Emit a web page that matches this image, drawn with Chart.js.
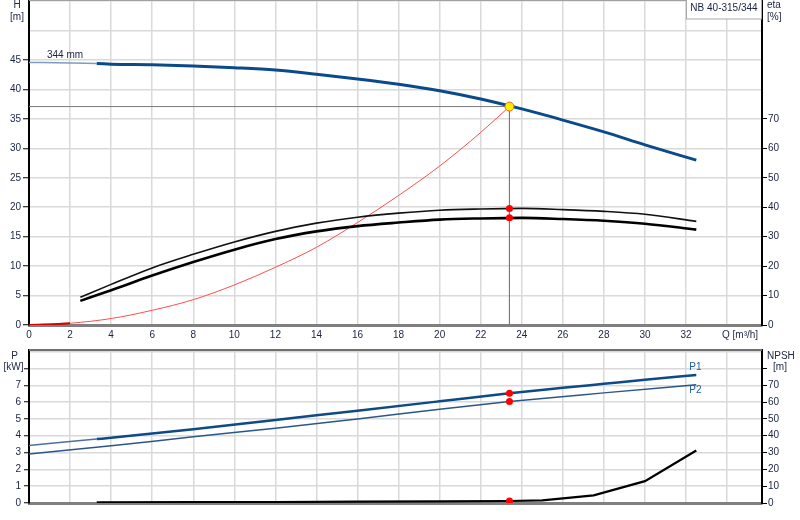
<!DOCTYPE html>
<html>
<head>
<meta charset="utf-8">
<script src="https://cdn.jsdelivr.net/npm/chart.js@4.4.1/dist/chart.umd.min.js"></script>
<style>
  body { margin: 0; background: #fff; }
  #wrap { position: relative; width: 800px; height: 520px; }
  canvas { position: absolute; left: 0; }
  #top { top: 0; z-index: 2; }
  #bottom { top: 340px; z-index: 1; }
  #caption { position: absolute; left: -9999px; top: 0; font: 10px Arial, "Liberation Sans", sans-serif; }
</style>
</head>
<body>
<div id="wrap">
  <canvas id="top" width="800" height="345"></canvas>
  <canvas id="bottom" width="800" height="180"></canvas>
  <div id="caption">NB 40-315/344 pump curves 0 2 4 6 8 10</div>
</div>
<script>
// Tick positions
const qTicks = [0, 2, 4, 6, 8, 10, 12, 14, 16, 18, 20, 22, 24, 26, 28, 30, 32, 34]
const hTicks = [0, 5, 10, 15, 20, 25, 30, 35, 40, 45, 50, 55]
const etaTicks = [0, 10, 20, 30, 40, 50, 60, 70]
const pTicks = [0, 1, 2, 3, 4, 5, 6, 7, 8, 9]
const npshTicks = [0, 10, 20, 30, 40, 50, 60, 70, 80]

// Q-H curve (impeller 344 mm)
const qHead = [0, 2, 3.3, 4, 6, 8, 10, 12, 14, 16, 18, 20, 22, 24, 26, 28, 30, 32.5]
const head = [44.6, 44.5, 44.4, 44.3, 44.2, 44.0, 43.7, 43.3, 42.6, 41.8, 40.9, 39.8, 38.4, 36.7, 34.8, 32.8, 30.6, 28.0]

// system curve (red)
const qSystem = [0, 2, 4, 6, 8, 10, 12, 14, 16, 18, 20, 22, 23.4]
const systemHead = [0, 0.3, 1.1, 2.5, 4.3, 6.8, 9.8, 13.2, 17.4, 22.0, 27.0, 32.7, 37.1]

// efficiency curves [%]
const qEta = [2.5, 4, 6, 8, 10, 12, 14, 16, 18, 20, 22, 24, 26, 28, 30, 32.5]
const etaPump = [9.4, 13.8, 19.4, 24.0, 28.2, 31.8, 34.6, 36.6, 38.0, 39.0, 39.4, 39.6, 39.2, 38.6, 37.6, 35.2]
const etaTotal = [8.2, 11.8, 16.8, 21.4, 25.6, 29.2, 31.8, 33.6, 34.8, 35.8, 36.2, 36.4, 36.0, 35.4, 34.4, 32.4]

// power [kW]
const qP1 = [0, 3.3, 4, 8, 12, 16, 20, 23.4, 26, 28, 30, 32.5]
const p1 = [3.42, 3.80, 3.88, 4.38, 4.94, 5.49, 6.05, 6.53, 6.85, 7.09, 7.33, 7.62]
const qP2 = [0, 4, 8, 12, 16, 20, 23.4, 28, 32.5]
const p2 = [2.91, 3.40, 3.94, 4.44, 5.00, 5.58, 6.03, 6.55, 7.04]

// NPSH [m]
const qNpsh = [3.3, 8, 12, 16, 20, 23.4, 25, 27.5, 30, 32.5]
const npsh = [0.4, 0.5, 0.6, 0.8, 1.0, 1.2, 1.6, 4.5, 13.0, 31.2]

// duty point
const dutyQ = 23.4
const dutyH = 37.1
const dutyEta = [39.6, 36.4]
const dutyP = [6.53, 6.03]
const dutyNpsh = 1.2

const FONT = 'Arial, "Liberation Sans", sans-serif'
const TEXT = "#1b2440"
const GRID = "#d9d9d9"

Chart.defaults.font.family = FONT
Chart.defaults.font.size = 10
Chart.defaults.color = TEXT

function toPoints(xs, ys) {
  return xs.map((x, i) => ({ x: x, y: ys[i] }))
}

function setTicks(list) {
  return (scale) => {
    scale.ticks = list.map((v) => ({ value: v }))
  }
}

function fitY(width) {
  return (scale) => {
    scale.width = width
    scale.paddingTop = 0
    scale.paddingBottom = 0
  }
}

function fitX(height) {
  return (scale) => {
    scale.height = height
    scale.paddingLeft = 0
    scale.paddingRight = 0
  }
}

function xScale(height, showLabels) {
  return {
    type: "linear",
    bounds: "data",
    min: 0,
    max: 35.7,
    afterBuildTicks: setTicks(qTicks),
    afterFit: fitX(height),
    grid: { color: GRID, lineWidth: 1.5, drawTicks: false },
    border: { color: "#7f7f7f", width: 3 },
    ticks: {
      padding: 4,
      maxRotation: 0,
      autoSkip: false,
      callback: (v) => (showLabels && v <= 32 ? String(v) : ""),
    },
  }
}

// Text, frames and box on the head chart
const topText = {
  id: "topText",
  afterDraw(chart) {
    const ctx = chart.ctx
    const area = chart.chartArea
    ctx.save()
    ctx.strokeStyle = "#a0a0a0"
    ctx.lineWidth = 1
    ctx.beginPath()
    ctx.moveTo(area.left, 0.5)
    ctx.lineTo(area.right, 0.5)
    ctx.stroke()

    ctx.font = "10px " + FONT
    ctx.fillStyle = TEXT
    ctx.textAlign = "center"
    ctx.textBaseline = "alphabetic"
    ctx.fillText("H", 17, 8)
    ctx.textBaseline = "middle"
    ctx.fillText("[m]", 17, 17.5)

    ctx.textAlign = "left"
    ctx.textBaseline = "alphabetic"
    ctx.fillText("eta", 767, 8)
    ctx.fillText("344 mm", 47, 57.5)
    ctx.textBaseline = "middle"
    ctx.fillText("[%]", 767, 17.5)
    ctx.fillText("Q [m³/h]", 722, area.bottom + 10)

    // model box
    ctx.fillStyle = "#ffffff"
    ctx.fillRect(686, 0, 75, 19)
    ctx.strokeStyle = "#a8a8a8"
    ctx.strokeRect(686.5, -0.5, 75, 19.5)
    ctx.fillStyle = TEXT
    ctx.textAlign = "center"
    ctx.fillText("NB 40-315/344", 724, 8.5)
    ctx.restore()
  },
}

const topChart = new Chart(document.getElementById("top"), {
  type: "line",
  data: {
    datasets: [
      {
        data: [{ x: dutyQ, y: dutyH }],
        yAxisID: "h",
        showLine: false,
        pointRadius: 4.5,
        pointBackgroundColor: "#ffee00",
        pointBorderColor: "#ff5a1f",
        pointBorderWidth: 1,
      },
      {
        data: dutyEta.map((e) => ({ x: dutyQ, y: e })),
        yAxisID: "eta",
        showLine: false,
        pointRadius: 3.5,
        pointBackgroundColor: "#ff0000",
        pointBorderWidth: 0,
      },
      {
        data: toPoints(qHead, head),
        yAxisID: "h",
        borderColor: "#0b4a8a",
        borderWidth: 3,
        pointRadius: 0,
        cubicInterpolationMode: "monotone",
        segment: {
          borderWidth: (c) => (c.p1.parsed.x <= 3.3 ? 1.5 : 3),
          borderColor: (c) => (c.p1.parsed.x <= 3.3 ? "#7d9cc0" : "#0b4a8a"),
        },
      },
      {
        data: toPoints(qEta, etaPump),
        yAxisID: "eta",
        borderColor: "#111111",
        borderWidth: 1.6,
        pointRadius: 0,
        cubicInterpolationMode: "monotone",
      },
      {
        data: toPoints(qEta, etaTotal),
        yAxisID: "eta",
        borderColor: "#000000",
        borderWidth: 2.6,
        pointRadius: 0,
        cubicInterpolationMode: "monotone",
      },
      {
        data: toPoints(qSystem, systemHead),
        yAxisID: "h",
        borderColor: "#ff4d4d",
        borderWidth: 1,
        pointRadius: 0,
        cubicInterpolationMode: "monotone",
        segment: {
          borderWidth: (c) => (c.p1.parsed.x <= 2 ? 2 : 1),
          borderColor: (c) => (c.p1.parsed.x <= 2 ? "#d40000" : "#ff4d4d"),
        },
      },
      {
        data: [
          { x: 0, y: dutyH },
          { x: dutyQ, y: dutyH },
          { x: dutyQ, y: 0 },
        ],
        yAxisID: "h",
        borderColor: "#7a7a7a",
        borderWidth: 1,
        pointRadius: 0,
        tension: 0,
      },
    ],
  },
  options: {
    responsive: false,
    animation: false,
    events: [],
    devicePixelRatio: 1,
    layout: { padding: 0, autoPadding: false },
    plugins: { legend: { display: false }, tooltip: { enabled: false } },
    scales: {
      x: xScale(20, true),
      h: {
        type: "linear",
        position: "left",
        bounds: "data",
        min: 0,
        max: 55.2,
        afterBuildTicks: setTicks(hTicks),
        afterFit: fitY(29),
        grid: {
          color: GRID,
          lineWidth: 1.5,
          tickLength: 6,
          tickWidth: 1,
          tickColor: (c) => (c.tick && c.tick.value <= 45 ? "#000" : "rgba(0,0,0,0)"),
        },
        border: { color: "#000", width: 2 },
        ticks: { padding: 2, callback: (v) => (v <= 45 ? String(v) : "") },
      },
      eta: {
        type: "linear",
        position: "right",
        bounds: "data",
        min: 0,
        max: 110.4,
        afterBuildTicks: setTicks(etaTicks),
        afterFit: fitY(38),
        grid: { drawOnChartArea: false, tickLength: 5, tickWidth: 1, tickColor: "#000" },
        border: { color: "#000", width: 2 },
        ticks: { padding: 1 },
      },
    },
  },
  plugins: [topText],
})

// Text and frame on the power / NPSH chart
const bottomText = {
  id: "bottomText",
  afterDraw(chart) {
    const ctx = chart.ctx
    const area = chart.chartArea
    const x = chart.scales.x
    const p = chart.scales.p
    ctx.save()
    ctx.strokeStyle = "#707070"
    ctx.lineWidth = 2
    ctx.beginPath()
    ctx.moveTo(area.left, area.top)
    ctx.lineTo(area.right, area.top)
    ctx.stroke()

    ctx.font = "10px " + FONT
    ctx.fillStyle = TEXT
    ctx.textAlign = "center"
    ctx.textBaseline = "alphabetic"
    ctx.fillText("P", 14.5, 18.5)
    ctx.textBaseline = "middle"
    ctx.fillText("[kW]", 13.5, 27.5)
    ctx.fillText("[m]", 780, 27.5)
    ctx.textAlign = "left"
    ctx.textBaseline = "alphabetic"
    ctx.fillText("NPSH", 767, 18.5)

    // curve names at the end of the power lines
    ctx.fillStyle = "#1f5fa0"
    ctx.textBaseline = "middle"
    ctx.fillText("P1", x.getPixelForValue(qP1[qP1.length - 1]) - 7, p.getPixelForValue(p1[p1.length - 1]) - 8)
    ctx.fillText("P2", x.getPixelForValue(qP2[qP2.length - 1]) - 7, p.getPixelForValue(p2[p2.length - 1]) + 6)
    ctx.restore()
  },
}

new Chart(document.getElementById("bottom"), {
  type: "line",
  data: {
    datasets: [
      {
        data: dutyP.map((v) => ({ x: dutyQ, y: v })),
        yAxisID: "p",
        showLine: false,
        pointRadius: 3.5,
        pointBackgroundColor: "#ff0000",
        pointBorderWidth: 0,
      },
      {
        data: [{ x: dutyQ, y: dutyNpsh }],
        yAxisID: "npsh",
        showLine: false,
        pointRadius: 3.5,
        pointBackgroundColor: "#ff0000",
        pointBorderWidth: 0,
      },
      {
        data: toPoints(qP1, p1),
        yAxisID: "p",
        borderColor: "#0d4a86",
        borderWidth: 2.5,
        pointRadius: 0,
        cubicInterpolationMode: "monotone",
        segment: {
          borderWidth: (c) => (c.p1.parsed.x <= 3.3 ? 1.5 : 2.5),
          borderColor: (c) => (c.p1.parsed.x <= 3.3 ? "#4d6f99" : "#0d4a86"),
        },
      },
      {
        data: toPoints(qP2, p2),
        yAxisID: "p",
        borderColor: "#2a5788",
        borderWidth: 1.5,
        pointRadius: 0,
        cubicInterpolationMode: "monotone",
      },
      {
        data: toPoints(qNpsh, npsh),
        yAxisID: "npsh",
        borderColor: "#000000",
        borderWidth: 2.2,
        pointRadius: 0,
        tension: 0,
      },
    ],
  },
  options: {
    responsive: false,
    animation: false,
    events: [],
    devicePixelRatio: 1,
    layout: { padding: { top: 10, left: 0, right: 0, bottom: 0 }, autoPadding: false },
    plugins: { legend: { display: false }, tooltip: { enabled: false } },
    scales: {
      x: xScale(17, false),
      p: {
        type: "linear",
        position: "left",
        bounds: "data",
        min: 0,
        max: 9.1,
        afterBuildTicks: setTicks(pTicks),
        afterFit: fitY(29),
        grid: {
          color: GRID,
          lineWidth: 1.5,
          tickLength: 5,
          tickWidth: 1,
          tickColor: (c) => (c.tick && c.tick.value <= 8 ? "#000" : "rgba(0,0,0,0)"),
        },
        border: { color: "#000", width: 2 },
        ticks: { padding: 3, callback: (v) => (v <= 7 ? String(v) : "") },
      },
      npsh: {
        type: "linear",
        position: "right",
        bounds: "data",
        min: 0,
        max: 91,
        afterBuildTicks: setTicks(npshTicks),
        afterFit: fitY(38),
        grid: { drawOnChartArea: false, tickLength: 5, tickWidth: 1, tickColor: "#000" },
        border: { color: "#000", width: 2 },
        ticks: { padding: 1, callback: (v) => (v <= 70 ? String(v) : "") },
      },
    },
  },
  plugins: [bottomText],
})

// same label list as the debug runs that showed every x label
document.getElementById("caption").setAttribute(
  "data-xlabels",
  topChart.scales.x.getLabelItems().map((i) => i.label).join(" ")
)
</script>
</body>
</html>
